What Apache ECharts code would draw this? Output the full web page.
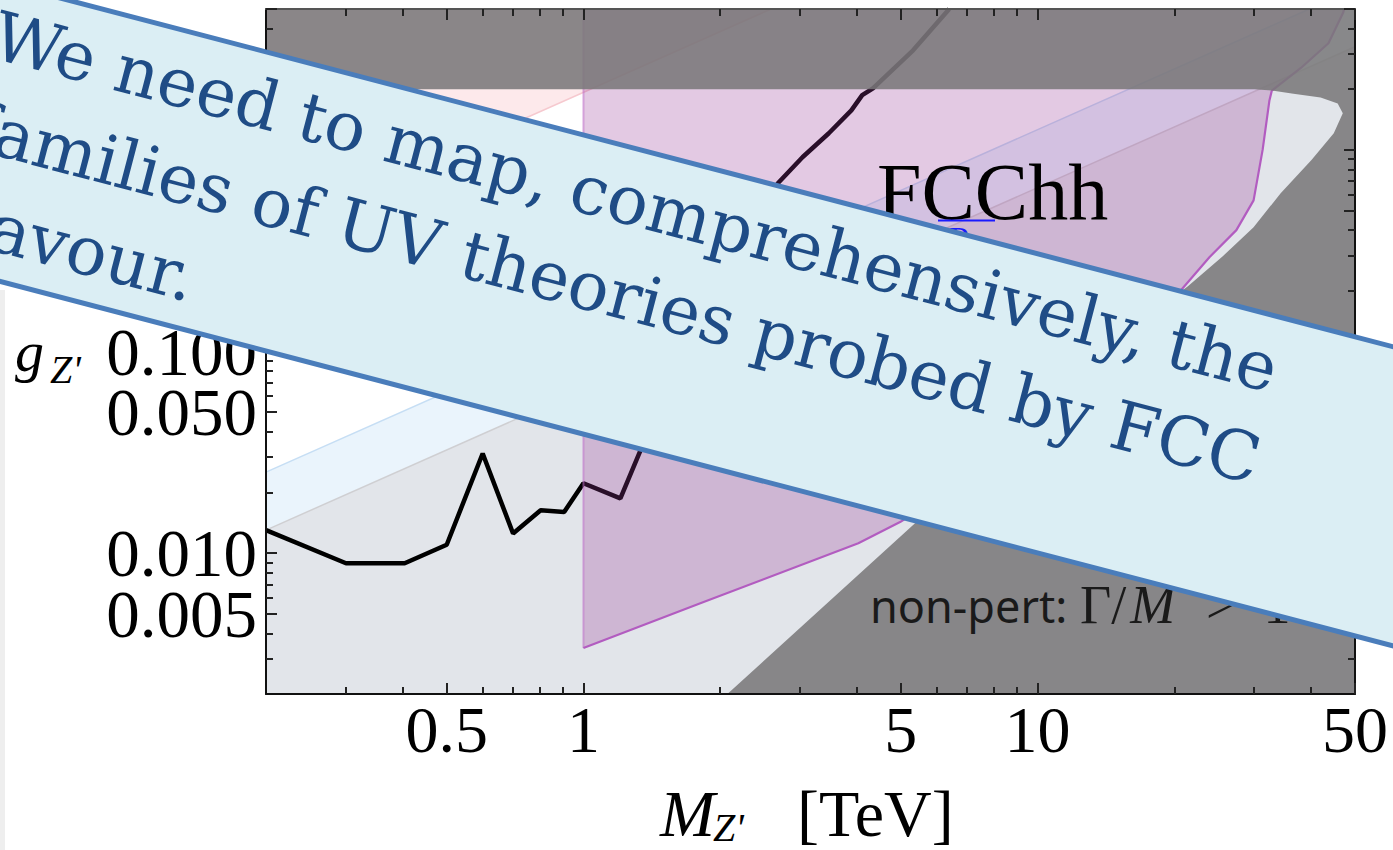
<!DOCTYPE html>
<html>
<head>
<meta charset="utf-8">
<script src="https://cdn.jsdelivr.net/npm/echarts@6/dist/echarts.min.js"></script>
<style>
html,body{margin:0;padding:0;background:#ffffff;}
#chart{width:1393px;height:850px;}
</style>
</head>
<body>
<div id="chart"></div>
<script>
// ---------------- data (M in TeV, g dimensionless) ----------------
const X_MIN = 0.2, X_MAX = 50, Y_MIN = 0.002, Y_MAX = 5;

const xTickLabels = [0.5, 1, 5, 10, 50];
const xMinorTicks = [0.3, 0.4, 0.6, 0.7, 0.8, 0.9, 2, 3, 4, 6, 7, 8, 9, 20, 30, 40];
const yMajorTicks = [0.005, 0.01, 0.05, 0.1, 0.5, 1, 5];
const yTickLabelsA = [0.01, 0.1, 1];       // labels 0.010, 0.100, 1.000
const yTickLabelsB = [0.005, 0.05, 0.5];   // labels 0.005, 0.050, 0.500
const yMinorTicks = [0.003, 0.004, 0.006, 0.007, 0.008, 0.009, 0.02, 0.03, 0.04,
                     0.06, 0.07, 0.08, 0.09, 0.2, 0.3, 0.4, 0.6, 0.7, 0.8, 0.9, 2, 3, 4];

// region below the grey line (g = 0.065 M)
const belowGreyLine = [[0.2, 0.002], [0.2, 0.013], [50, 3.25], [50, 0.002]];
const greyLine = [[0.2, 0.013], [50, 3.25]];
// light-blue band between grey line and blue line (g = 0.126 M)
const blueBand = [[0.2, 0.013], [0.2, 0.0252], [39.7, 5], [50, 5], [50, 3.25]];
const blueLine = [[0.2, 0.0252], [39.7, 5]];
// pink region above g = 1.93 M
const pinkRegion = [[0.2, 0.386], [2.59, 5], [0.2, 5]];
const pinkLine = [[0.2, 0.386], [2.59, 5]];
// FCChh reach
const fccBoundary = [[1, 0.00338], [1.815, 0.00565], [4.03, 0.0112], [4.98, 0.01425], [8, 0.028],
                     [12, 0.058], [16, 0.103], [20.96, 0.2085], [23.9, 0.2935], [27.4, 0.40],
                     [29.9, 0.562], [31.3, 1.0], [32.4, 1.76], [32.8, 1.97], [38, 2.55],
                     [43.7, 3.38], [47.1, 4.8], [47.3, 5]];
const fccLeftEdge = [[1, 0.00338], [1, 5]];
// current bound (black)
const currentBound = [[0.2, 0.013], [0.3, 0.0089], [0.404, 0.0089], [0.5, 0.011], [0.6, 0.0312],
                      [0.7, 0.0125], [0.805, 0.0163], [0.907, 0.016], [1.0, 0.0222], [1.206, 0.0187],
                      [1.327, 0.0312], [1.5, 0.06], [1.8, 0.13], [2.1, 0.25], [2.4, 0.43],
                      [2.68, 0.683], [3.04, 0.922], [3.47, 1.21], [3.89, 1.57], [4.11, 1.87],
                      [4.34, 2.02], [5.32, 3.12], [6.39, 5]];
// non-perturbative region (Gamma/M > 1) together with the top band
const nonPertRegion = [[0.2, 5], [50, 5], [50, 0.002], [2.075, 0.002], [5.32, 0.0138], [10, 0.05],
                       [15, 0.115], [21.4, 0.21], [25.5, 0.295], [29.9, 0.413], [34.3, 0.61],
                       [40.1, 0.89], [44.9, 1.21], [47, 1.52], [45.8, 1.7], [42, 1.82],
                       [36.6, 1.9], [32.8, 1.97], [30, 2.0], [0.2, 2.0]];

// ---------------- chart ----------------
const chart = echarts.init(document.getElementById('chart'), null, {renderer: 'svg', width: 1393, height: 850});

function polySeries(points, fill, z) {
  return {
    type: 'custom', coordinateSystem: 'cartesian2d', xAxisIndex: 0, yAxisIndex: 0,
    data: points, clip: true, z: z, silent: true, animation: false,
    renderItem: function (params, api) {
      if (params.dataIndex !== 0) return null;
      return {type: 'polygon', shape: {points: points.map(p => api.coord(p))}, style: {fill: fill}};
    }
  };
}
function lineSeries(points, color, width, z) {
  return {
    type: 'line', xAxisIndex: 0, yAxisIndex: 0, data: points, showSymbol: false, symbol: 'none',
    lineStyle: {color: color, width: width}, z: z, silent: true, animation: false, clip: true
  };
}

const serif = '"Liberation Serif", "Times New Roman", serif';
const xFmt = v => String(+(+v).toPrecision(3));
const yFmt = v => (+v).toFixed(3);

function xAx(pos, values, len, label, lineShow) {
  return {
    type: 'log', logBase: 10, min: X_MIN, max: X_MAX, gridIndex: 0, position: pos, z: 20,
    splitLine: {show: false},
    axisLine: {show: lineShow, onZero: false, lineStyle: {color: pos === 'bottom' ? '#111' : '#555', width: 2}},
    axisTick: {show: true, inside: true, length: len, customValues: values, lineStyle: {color: '#222', width: 2}},
    axisLabel: label ? {show: true, customValues: xTickLabels, formatter: xFmt, fontFamily: serif,
                        fontSize: 66, lineHeight: 56, color: '#000', margin: 7, interval: 0, hideOverlap: false}
                     : {show: false}
  };
}
function yAx(pos, values, len, labels, lineShow) {
  return {
    type: 'log', logBase: 10, min: Y_MIN, max: Y_MAX, gridIndex: 0, position: pos, z: 20,
    splitLine: {show: false},
    axisLine: {show: lineShow, onZero: false, lineStyle: {color: '#111', width: 2}},
    axisTick: {show: values !== null, inside: true, length: len, customValues: values || [],
               lineStyle: {color: '#222', width: 2}},
    axisLabel: labels ? {show: true, customValues: labels, formatter: yFmt, fontFamily: serif,
                        fontSize: 67, lineHeight: 50, color: '#000', margin: 9, interval: 0, hideOverlap: false}
                      : {show: false}
  };
}

const theta = Math.atan(0.262);
const bannerText = '#1f4c86';
const bannerFont = '68px "DejaVu Serif", serif';

const option = {
  animation: false,
  backgroundColor: '#ffffff',
  grid: {left: 266, right: 38, top: 9, bottom: 156, containLabel: false},
  xAxis: [
    xAx('bottom', xTickLabels, 11, true, true),
    xAx('bottom', xMinorTicks, 7, false, false),
    xAx('top', xTickLabels, 11, false, true),
    xAx('top', xMinorTicks, 7, false, false)
  ],
  yAxis: [
    yAx('left', yMajorTicks, 11, yTickLabelsA, true),
    yAx('left', yMinorTicks, 7, yTickLabelsB, false),
    yAx('right', yMajorTicks, 11, null, true),
    yAx('right', yMinorTicks, 7, null, false)
  ],
  series: [
    polySeries(belowGreyLine, '#e2e5ea', 1),
    polySeries(blueBand, '#eaf4fc', 1),
    polySeries(pinkRegion, '#fde9eb', 1),
    lineSeries(greyLine, '#cfcfd2', 1.5, 2),
    lineSeries(blueLine, '#c6def4', 1.5, 2),
    lineSeries(pinkLine, '#f6c9cf', 1.5, 2),
    lineSeries(currentBound, '#000000', 4.5, 3),
    polySeries([[1, 5]].concat(fccBoundary), 'rgba(150,55,150,0.27)', 4),
    lineSeries(fccLeftEdge, 'rgba(190,110,200,0.55)', 2, 5),
    lineSeries(fccBoundary, '#b25cc0', 2.2, 5),
    polySeries(nonPertRegion, 'rgba(121,119,121,0.87)', 6)
  ],
  graphic: [
    {type: 'rect', z: 1, shape: {x: 0, y: 290, width: 5, height: 560}, style: {fill: '#eeeeee'}},
    // FCChh label
    {type: 'text', z: 30, style: {x: 877, y: 192, text: 'FCChh', font: '80px ' + serif, fill: '#000',
      lineHeight: 58, verticalAlign: 'middle', textVerticalAlign: 'middle'}},
    {type: 'line', z: 30, shape: {x1: 938, y1: 220.5, x2: 995, y2: 220.5}, style: {stroke: '#1a1aff', lineWidth: 2}},
    {type: 'text', z: 30, style: {x: 949, y: 240, text: 'P', font: '36px ' + serif, fill: '#1a1aff',
      lineHeight: 26, verticalAlign: 'middle', textVerticalAlign: 'middle'}},
    // non-pert label
    {type: 'text', z: 30, style: {x: 870, y: 605, text: 'non-pert:',
      font: '45px "Noto Sans", "DejaVu Sans", sans-serif', fill: '#1a1a1a',
      lineHeight: 44, verticalAlign: 'middle', textVerticalAlign: 'middle'}},
    {type: 'text', z: 30, style: {x: 1080, y: 605, text: '{r|Γ/}{i|M}', fill: '#1a1a1a',
      verticalAlign: 'middle', textVerticalAlign: 'middle',
      rich: {
        r: {fontFamily: serif, fontSize: 54, lineHeight: 44, color: '#1a1a1a'},
        i: {fontFamily: serif, fontSize: 54, lineHeight: 44, fontStyle: 'italic', color: '#1a1a1a', padding: [0, 0, 0, 4]}
      }}},
    {type: 'text', z: 30, style: {x: 1206, y: 605, text: '>  1', font: '54px ' + serif, fill: '#1a1a1a',
      lineHeight: 44, verticalAlign: 'middle', textVerticalAlign: 'middle'}},
    // y axis title g_Z'
    {type: 'text', z: 30, style: {x: 15, y: 351, text: 'g', font: 'italic 58px ' + serif, fill: '#000',
      lineHeight: 50, verticalAlign: 'middle', textVerticalAlign: 'middle'}},
    {type: 'text', z: 30, style: {x: 50, y: 369, text: "Z'", font: 'italic 40px ' + serif, fill: '#000',
      lineHeight: 34, verticalAlign: 'middle', textVerticalAlign: 'middle'}},
    // x axis title M_Z' [TeV]
    {type: 'text', z: 30, style: {x: 660, y: 813, text: 'M', font: 'italic 66px ' + serif, fill: '#000',
      lineHeight: 56, verticalAlign: 'middle', textVerticalAlign: 'middle'}},
    {type: 'text', z: 30, style: {x: 713, y: 827, text: "Z'", font: 'italic 40px ' + serif, fill: '#000',
      lineHeight: 34, verticalAlign: 'middle', textVerticalAlign: 'middle'}},
    {type: 'text', z: 30, style: {x: 797, y: 813, text: '[TeV]', font: '66px ' + serif, fill: '#000',
      lineHeight: 56, verticalAlign: 'middle', textVerticalAlign: 'middle'}},
    // overlay banner
    {type: 'group', x: 0, y: -17.7, rotation: -theta, z: 100, children: [
      {type: 'rect', z: 100, shape: {x: -200, y: 0, width: 1900, height: 289.5},
        style: {fill: '#dbeef4', stroke: '#4a7dbb', lineWidth: 5}},
      {type: 'text', z: 101, style: {x: 8, y: 52, text: 'We need to map, comprehensively, the',
        font: bannerFont, fill: bannerText, verticalAlign: 'middle', textVerticalAlign: 'middle'}},
      {type: 'text', z: 101, style: {x: 8, y: 145, text: 'families of UV theories probed by FCC',
        font: bannerFont, fill: bannerText, verticalAlign: 'middle', textVerticalAlign: 'middle'}},
      {type: 'text', z: 101, style: {x: 8, y: 238, text: 'flavour.',
        font: bannerFont, fill: bannerText, verticalAlign: 'middle', textVerticalAlign: 'middle'}}
    ]}
  ]
};
chart.setOption(option);
</script>
</body>
</html>
